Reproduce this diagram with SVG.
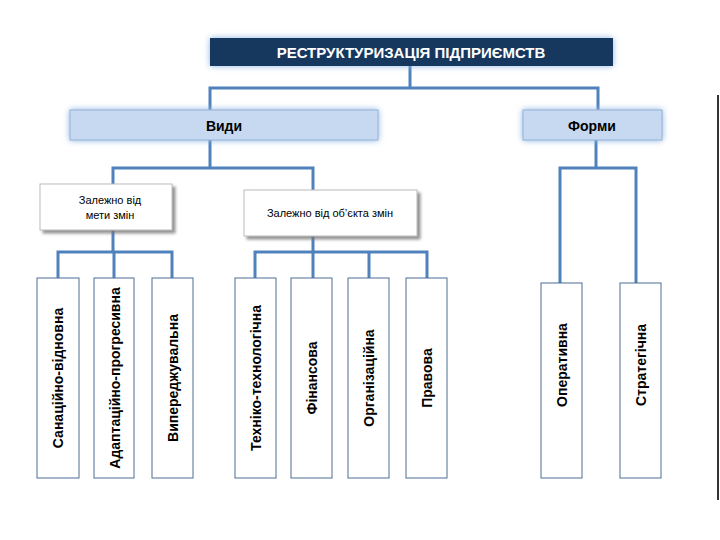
<svg xmlns="http://www.w3.org/2000/svg" width="720" height="540" viewBox="0 0 720 540">
<defs>
<filter id="glow" x="-10%" y="-40%" width="120%" height="180%"><feGaussianBlur in="SourceAlpha" stdDeviation="3"/><feFlood flood-color="#8db3e2"/><feComposite operator="in" in2="SourceAlpha"/><feGaussianBlur stdDeviation="3"/><feMerge><feMergeNode/><feMergeNode in="SourceGraphic"/></feMerge></filter>
<filter id="sh" x="-10%" y="-10%" width="130%" height="140%"><feDropShadow dx="3" dy="3" stdDeviation="1.5" flood-color="#777" flood-opacity="0.8"/></filter>
</defs>
<style>
text{font-family:"Liberation Sans",Arial,sans-serif;fill:#000}
.c{fill:none;stroke:#4f81bd;stroke-width:3}
.leaf{fill:#fff;stroke:#4f6f95;stroke-width:1}
.lt{font-size:14px;font-weight:bold}
.mid{fill:#c6d9f1;stroke:#95b3d7;stroke-width:1}
</style>
<rect width="720" height="540" fill="#fff"/>
<line x1="718" y1="95" x2="718" y2="500" stroke="#333" stroke-width="2"/>
<g id="connectors">
<path class="c" d="M410 66V88M210 110V88H598V110"/>
<path class="c" d="M210 140V168M113 184V168H313V190"/>
<path class="c" d="M596 140V168M560 283V168H636V283"/>
<path class="c" d="M113 230V252M58 278V252H172V278M114 252V278"/>
<path class="c" d="M313 236V252M255 278V252H427V278M313 252V278M369 252V278"/>
</g>
<g id="title"><rect x="210" y="38" width="403" height="28" fill="#17375e" filter="url(#glow)"/><text x="411" y="58" text-anchor="middle" font-size="15" font-weight="bold" style="fill:#fff">РЕСТРУКТУРИЗАЦІЯ ПІДПРИЄМСТВ</text></g>
<g id="vydy"><rect class="mid" x="70" y="110" width="308" height="30" filter="url(#glow)"/><text x="224" y="131" text-anchor="middle" font-size="14" font-weight="bold">Види</text></g>
<g id="formy"><rect class="mid" x="523" y="110" width="139" height="30" filter="url(#glow)"/><text x="592" y="131" text-anchor="middle" font-size="14" font-weight="bold">Форми</text></g>
<g id="meta"><rect x="40" y="184" width="132" height="46" fill="#fff" stroke="#bbb" filter="url(#sh)"/><text x="110" y="204" text-anchor="middle" font-size="11">Залежно від</text><text x="110" y="219" text-anchor="middle" font-size="11">мети змін</text></g>
<g id="object"><rect x="244" y="190" width="173" height="46" fill="#fff" stroke="#bbb" filter="url(#sh)"/><text x="330" y="217" text-anchor="middle" font-size="11">Залежно від об’єкта змін</text></g>
<g id="n1"><rect class="leaf" x="37" y="278" width="42" height="200"/><text class="lt" transform="translate(63,378) rotate(-90)" text-anchor="middle">Санаційно-відновна</text></g>
<g id="n2"><rect class="leaf" x="94" y="278" width="40" height="200"/><text class="lt" transform="translate(120,378) rotate(-90)" text-anchor="middle">Адаптаційно-прогресивна</text></g>
<g id="n3"><rect class="leaf" x="152" y="278" width="41" height="200"/><text class="lt" transform="translate(178,378) rotate(-90)" text-anchor="middle">Випереджувальна</text></g>
<g id="n4"><rect class="leaf" x="235" y="278" width="41" height="200"/><text class="lt" transform="translate(261,378) rotate(-90)" text-anchor="middle">Техніко-технологічна</text></g>
<g id="n5"><rect class="leaf" x="291" y="278" width="41" height="200"/><text class="lt" transform="translate(317,378) rotate(-90)" text-anchor="middle">Фінансова</text></g>
<g id="n6"><rect class="leaf" x="348" y="278" width="41" height="200"/><text class="lt" transform="translate(374,378) rotate(-90)" text-anchor="middle">Організаційна</text></g>
<g id="n7"><rect class="leaf" x="406" y="278" width="41" height="200"/><text class="lt" transform="translate(432,378) rotate(-90)" text-anchor="middle">Правова</text></g>
<g id="n8"><rect class="leaf" x="541" y="283" width="41" height="195"/><text class="lt" transform="translate(567,365) rotate(-90)" text-anchor="middle">Оперативна</text></g>
<g id="n9"><rect class="leaf" x="620" y="283" width="41" height="195"/><text class="lt" transform="translate(646,365) rotate(-90)" text-anchor="middle">Стратегічна</text></g>
</svg>
